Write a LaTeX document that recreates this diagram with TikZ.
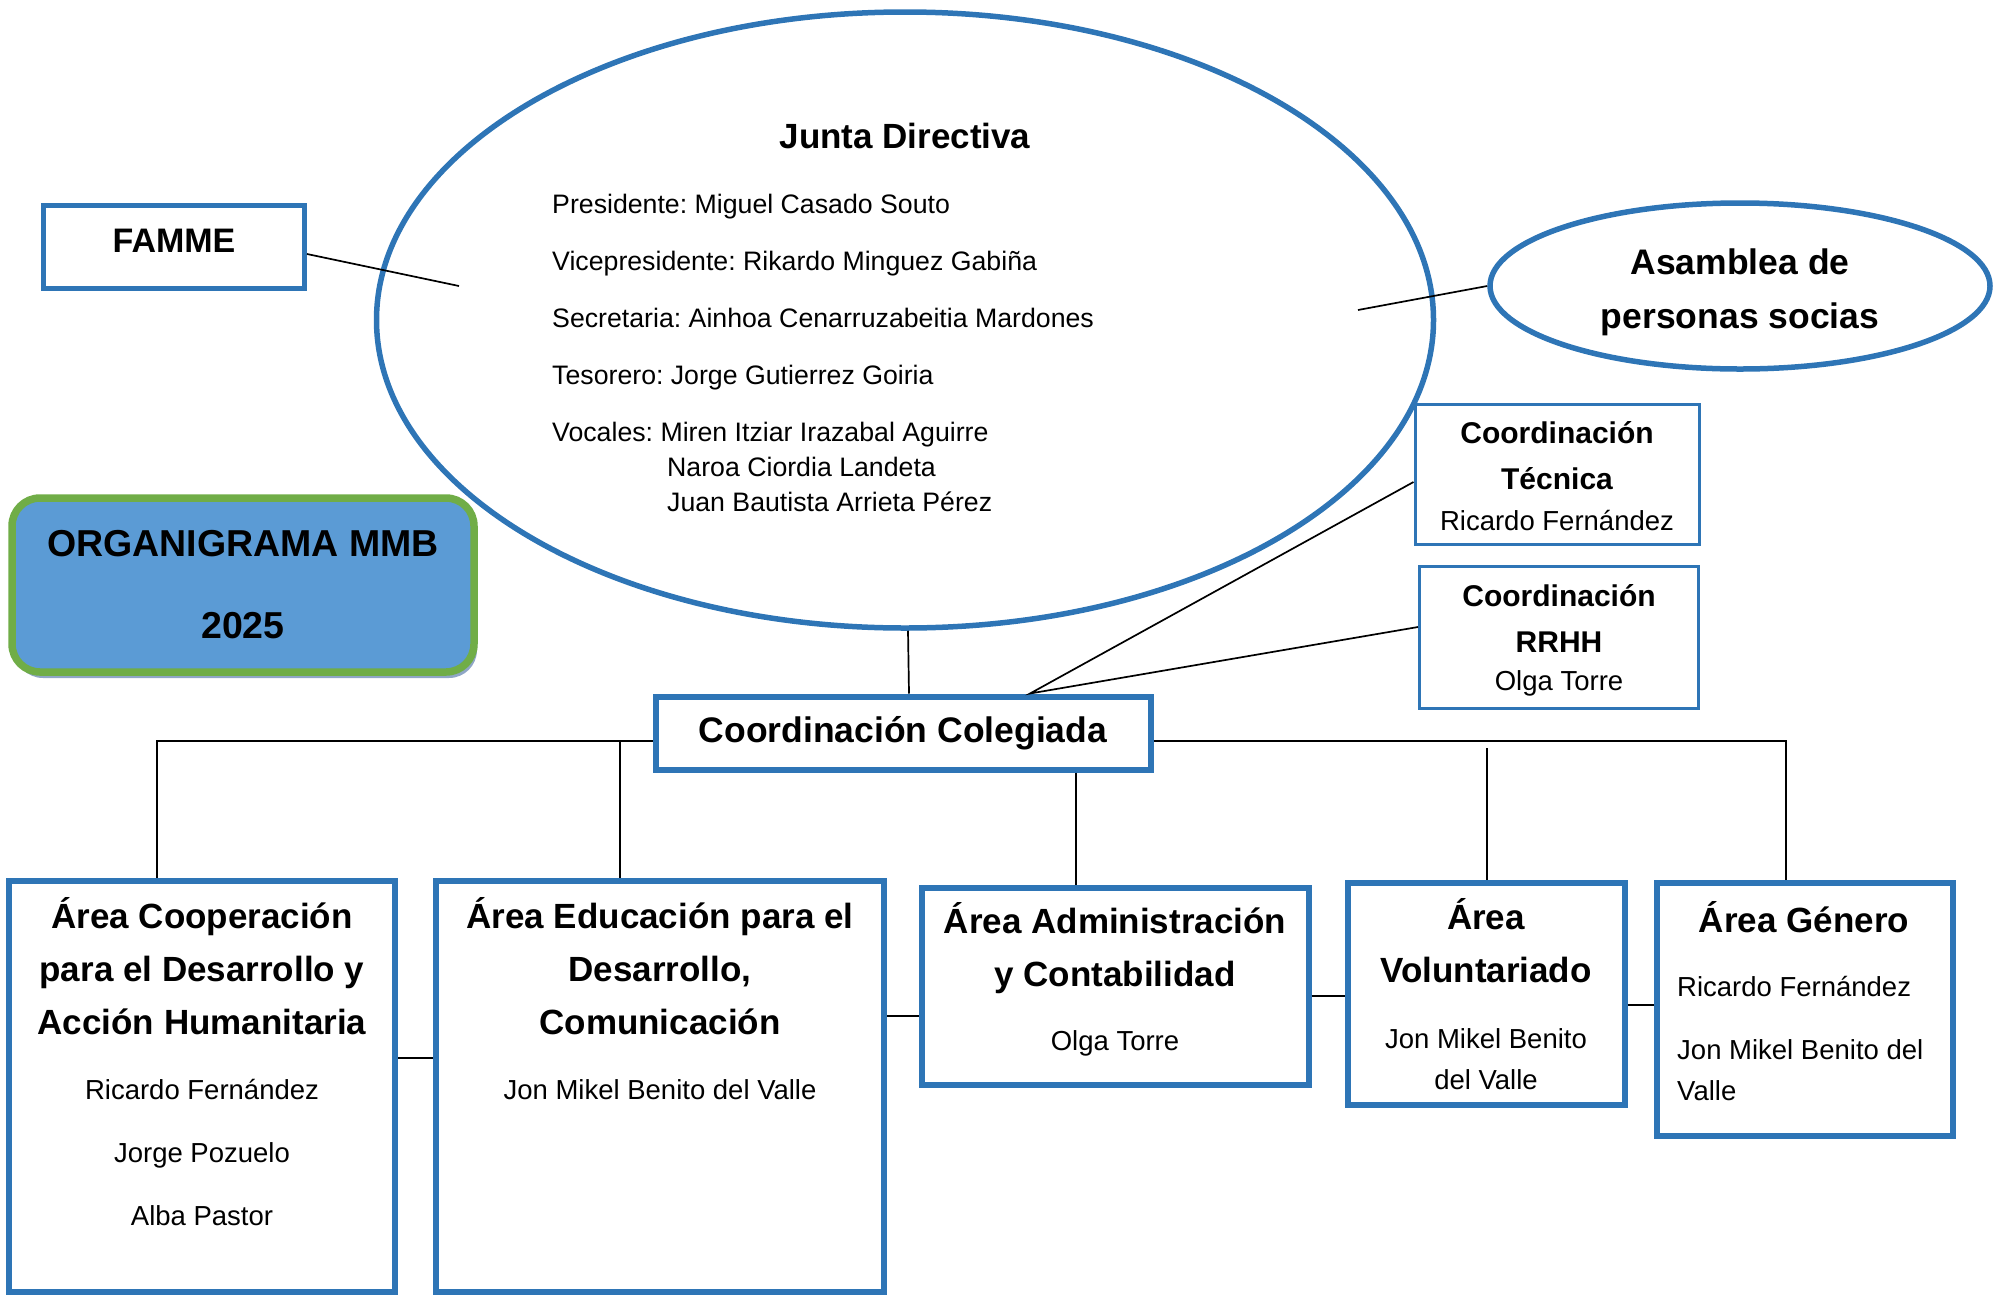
\documentclass[tikz,border=0pt]{standalone}
\usepackage{fontspec}
\setmainfont{Liberation Sans}
\usetikzlibrary{shapes.geometric,shadows}
\frenchspacing

\definecolor{mmbblue}{HTML}{2E75B6}
\definecolor{orgfill}{HTML}{5B9BD5}
\definecolor{orggreen}{HTML}{70AD47}
\definecolor{orgshadow}{HTML}{8FA6C6}

\tikzset{
  box/.style={draw=mmbblue, line width=6pt, rectangle, inner sep=0pt},
  thinbox/.style={draw=mmbblue, line width=3pt, rectangle, inner sep=0pt},
  oval/.style={draw=mmbblue, line width=5.5pt, ellipse, inner sep=0pt},
  conn/.style={line width=1.7pt},
  head/.style={font=\fontsize{35}{53}\selectfont\bfseries, align=center, inner sep=0pt},
  subhead/.style={font=\fontsize{30}{46}\selectfont\bfseries, align=center, inner sep=0pt},
  names/.style={font=\fontsize{27.5}{63}\selectfont, align=center, inner sep=0pt},
  tightnames/.style={font=\fontsize{27.5}{41}\selectfont, inner sep=0pt},
  members/.style={font=\fontsize{26.7}{35}\selectfont, align=left, inner sep=0pt}
}

\begin{document}
\begin{tikzpicture}[x=1pt, y=-1pt]

\def \indent {115pt}
\def \gap {22pt}

\useasboundingbox (0,0) rectangle (1999,1304);

% top level
\node[oval, minimum width=1057pt, minimum height=616pt] (jd) at (905,320) {};
\node[head] (jd-title) at (905,136) {Junta Directiva};
\node[members, anchor=north west] (jd-list) at (552,194) {Presidente: Miguel Casado Souto\\[\gap]
Vicepresidente: Rikardo Minguez Gabiña\\[\gap]
Secretaria: Ainhoa Cenarruzabeitia Mardones\\[\gap]
Tesorero: Jorge Gutierrez Goiria\\[\gap]
Vocales: Miren Itziar Irazabal Aguirre\\
\hspace*{\indent}Naroa Ciordia Landeta\\
\hspace*{\indent}Juan Bautista Arrieta Pérez};

\node[box, line width=5pt, minimum width=261pt, minimum height=83pt] (famme) at (174,247) {};
\node[head, font=\fontsize{34}{40}\selectfont\bfseries] (famme-txt) at (174,241) {FAMME};

\node[oval, minimum width=500pt, minimum height=166pt] (asam) at (1740,286) {};
\node[head, font=\fontsize{35.5}{54}\selectfont\bfseries] (asam-txt) at (1740,292) {Asamblea de\\personas socias};

\node[draw=orggreen, fill=orgfill, line width=7.5pt, rounded corners=28pt,
      drop shadow={fill=orgshadow, opacity=1, shadow xshift=3pt, shadow yshift=-6pt},
      minimum width=462pt, minimum height=174pt, align=center,
      font=\fontsize{37.5}{82}\selectfont\bfseries] (org) at (243,585) {ORGANIGRAMA MMB\\2025};

% coordination
\node[thinbox, minimum width=284pt, minimum height=140pt] (ct) at (1557,474) {};
\node[subhead] (ct-title) at (1557,456) {Coordinación\\Técnica};
\node[tightnames] (ct-name) at (1557,521) {Ricardo Fernández};

\node[thinbox, minimum width=279pt, minimum height=142pt] (rrhh) at (1559,637) {};
\node[subhead] (rrhh-title) at (1559,618) {Coordinación\\RRHH};
\node[tightnames] (rrhh-name) at (1559,683) {Olga Torre};

\node[box, minimum width=495pt, minimum height=73pt, font=\fontsize{35.5}{40}\selectfont\bfseries] (cc) at (903,733) {Coordinación Colegiada};

% areas
\node[box, minimum width=386pt, minimum height=411pt] (coop) at (202,1086) {};
\node[head] (coop-title) at (202,966) {Área Cooperación\\para el Desarrollo y\\Acción Humanitaria};
\node[names] (coop-names) at (202,1152) {Ricardo Fernández\\Jorge Pozuelo\\Alba Pastor};

\node[box, minimum width=448pt, minimum height=411pt] (educ) at (660,1086) {};
\node[head] (educ-title) at (660,966) {Área Educación para el\\Desarrollo,\\Comunicación};
\node[names] (educ-names) at (660,1090) {Jon Mikel Benito del Valle};

\node[box, minimum width=387pt, minimum height=197pt] (admin) at (1115,986) {};
\node[head] (admin-title) at (1115,948) {Área Administración\\y Contabilidad};
\node[names] (admin-names) at (1115,1043) {Olga Torre};

\node[box, minimum width=277pt, minimum height=222pt] (vol) at (1486,994) {};
\node[head] (vol-title) at (1486,941) {Área\\Voluntariado};
\node[tightnames, align=center] (vol-names) at (1486,1059) {Jon Mikel Benito\\del Valle};

\node[box, minimum width=296pt, minimum height=253pt] (gen) at (1805,1009) {};
\node[head] (gen-title) at (1804,917) {Área Género};
\node[tightnames, align=left, anchor=west] (gen-names) at (1677,1038) {Ricardo Fernández\\[\gap]Jon Mikel Benito del\\Valle};

% connectors
\coordinate (jd-l) at (459,286);
\coordinate (jd-r) at (1358,310);
\draw[conn] (famme.east |- 0,254) -- (jd-l);
\draw[conn] (jd-r) -- (asam.west);
\draw[conn] (jd.south -| 908,0) -- (cc.north -| 909,0);
\draw[conn] (ct.west |- 0,482) -- (cc.north -| 1030,0) -- (rrhh.west |- 0,627);

\draw[conn] (cc.west |- 0,741) -- (157,741) -- (coop.north -| 157,0);
\draw[conn] (cc.east |- 0,741) -- (1786,741) -- (gen.north -| 1786,0);
\draw[conn] (620,741) -- (educ.north -| 620,0);
\draw[conn] (cc.south -| 1076,0) -- (admin.north -| 1076,0);
\draw[conn] (1487,748) -- (vol.north -| 1487,0);

\foreach \a/\b/\y in {coop/educ/1058, educ/admin/1016, admin/vol/996, vol/gen/1005}
{
  \draw[conn] (\a.east |- 0,\y) -- (\b.west |- 0,\y);
}

\end{tikzpicture}
\end{document}
